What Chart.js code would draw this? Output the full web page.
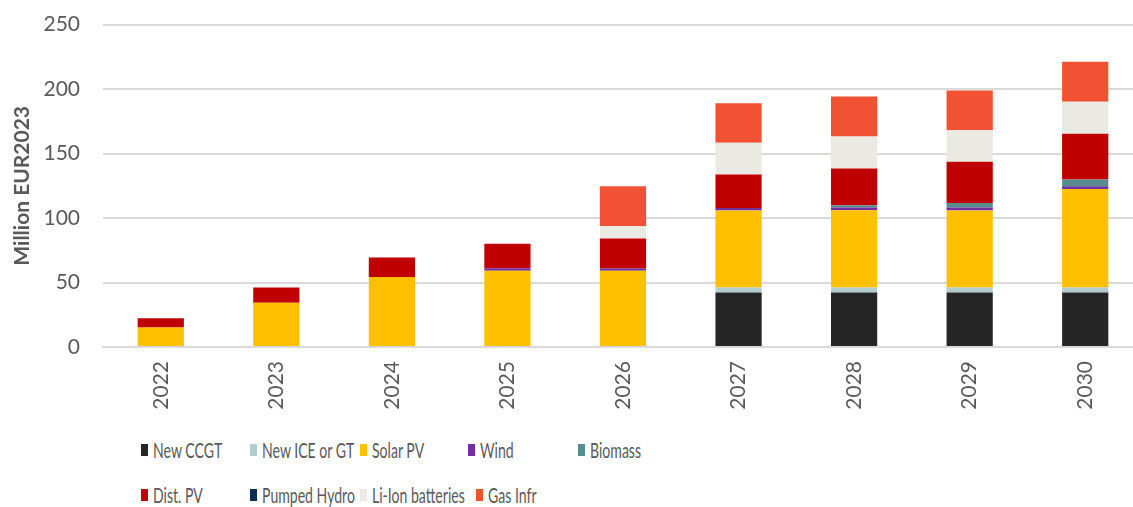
<!DOCTYPE html>
<html>
<head>
<meta charset="utf-8">
<script src="https://cdn.jsdelivr.net/npm/chart.js@4/dist/chart.umd.min.js"></script>
<style>
  html, body { margin: 0; padding: 0; background: #fff; overflow: hidden; }
  #wrap { position: absolute; left: 0; top: -11px; width: 1145px; height: 441px; }
  #legend { position: absolute; left: 141px; top: 437px; width: 900px; height: 70px; font-family: Lato, "Open Sans", sans-serif; color: #595959; }
  .item { position: absolute; display: flex; align-items: center; white-space: nowrap; }
  .box { width: 7px; height: 12px; margin-right: 5px; flex: none; }
  .txt { font-size: 21px; display: inline-block; transform: scaleX(0.67); transform-origin: left center; }
</style>
</head>
<body>
<div id="wrap"><canvas id="myChart" width="1145" height="441"></canvas></div>
<div id="legend"></div>
<script>
const years = ["2022", "2023", "2024", "2025", "2026", "2027", "2028", "2029", "2030"];
const yTicks = [0, 50, 100, 150, 200, 250];

// investment per technology, million EUR2023
const newCcgt = [0, 0, 0, 0, 0, 42.3, 42.3, 42.3, 42.3];
const newIceGt = [0, 0, 0, 0, 0, 3.9, 3.9, 3.9, 3.9];
const solarPv = [15.2, 34.3, 54.2, 59.1, 59.1, 59.6, 59.8, 59.6, 76.3];
const wind = [0, 0, 0, 2, 1.8, 2, 2.1, 2.3, 2.1];
const biomass = [0, 0, 0, 0, 0, 0, 1.8, 3.6, 5.2];
const distPv = [7, 11.9, 15.2, 19, 23.2, 25.9, 28.6, 32, 35.6];
const pumpedHydro = [0, 0, 0, 0, 0, 0, 0, 0, 0];
const liIon = [0, 0, 0, 0, 9.8, 24.7, 24.8, 24.3, 24.8];
const gasInfr = [0, 0, 0, 0, 30.7, 30.7, 31, 30.9, 31];

const seriesNames = ["New CCGT", "New ICE or GT", "Solar PV", "Wind", "Biomass", "Dist. PV", "Pumped Hydro", "Li-Ion batteries", "Gas Infr"];
const seriesData = [newCcgt, newIceGt, solarPv, wind, biomass, distPv, pumpedHydro, liIon, gasInfr];
const seriesColors = ["#262626", "#b2cdd0", "#ffc000", "#7030a0", "#588b8b", "#c00000", "#0b2d52", "#eaeae3", "#f05233"];

const font = "Lato, 'Open Sans', sans-serif";
const grey = "#595959";

const ctx = document.getElementById("myChart");

new Chart(ctx, {
  type: "bar",
  data: {
    labels: years,
    datasets: seriesNames.map((name, i) => ({
      label: name,
      data: seriesData[i],
      backgroundColor: seriesColors[i],
      borderWidth: 0,
      barPercentage: 0.4,
      categoryPercentage: 1,
    })),
  },
  options: {
    responsive: false,
    animation: false,
    layout: { padding: { top: 13, right: 2, left: 0, bottom: 0 } },
    plugins: {
      legend: { display: false },
      tooltip: { enabled: false },
    },
    scales: {
      x: {
        stacked: true,
        grid: { display: false, drawTicks: false },
        border: { color: "#d9d9d9", width: 2 },
        ticks: {
          color: grey,
          font: { family: font, size: 21 },
          maxRotation: 90,
          minRotation: 90,
          padding: 14,
        },
        afterFit: (scale) => { scale.height = 83; },
      },
      y: {
        stacked: true,
        min: 0,
        max: 250,
        afterBuildTicks: (scale) => { scale.ticks = yTicks.map((v) => ({ value: v })); },
        grid: { color: "#d9d9d9", lineWidth: 2, drawTicks: false },
        border: { display: false },
        ticks: {
          color: grey,
          font: { family: font, size: 21 },
          padding: 23,
        },
        title: {
          display: true,
          text: "Million EUR2023",
          color: grey,
          font: { family: font, size: 21, weight: "bold" },
          padding: { top: 10, bottom: 0 },
        },
        afterFit: (scale) => { scale.width = 103; },
      },
    },
  },
});

// legend drawn as html, two rows like the original layout
const legend = document.getElementById("legend");
const legendSlots = [
  [0, 0], [109, 0], [219, 0], [327, 0], [437, 0],
  [0, 45], [109, 45], [219, 45], [335, 45],
];
seriesNames.forEach((name, i) => {
  const item = document.createElement("div");
  item.className = "item";
  item.style.left = legendSlots[i][0] + "px";
  item.style.top = legendSlots[i][1] + "px";
  const box = document.createElement("span");
  box.className = "box";
  box.style.background = seriesColors[i];
  const txt = document.createElement("span");
  txt.className = "txt";
  txt.textContent = name;
  item.appendChild(box);
  item.appendChild(txt);
  legend.appendChild(item);
});
</script>
</body>
</html>
